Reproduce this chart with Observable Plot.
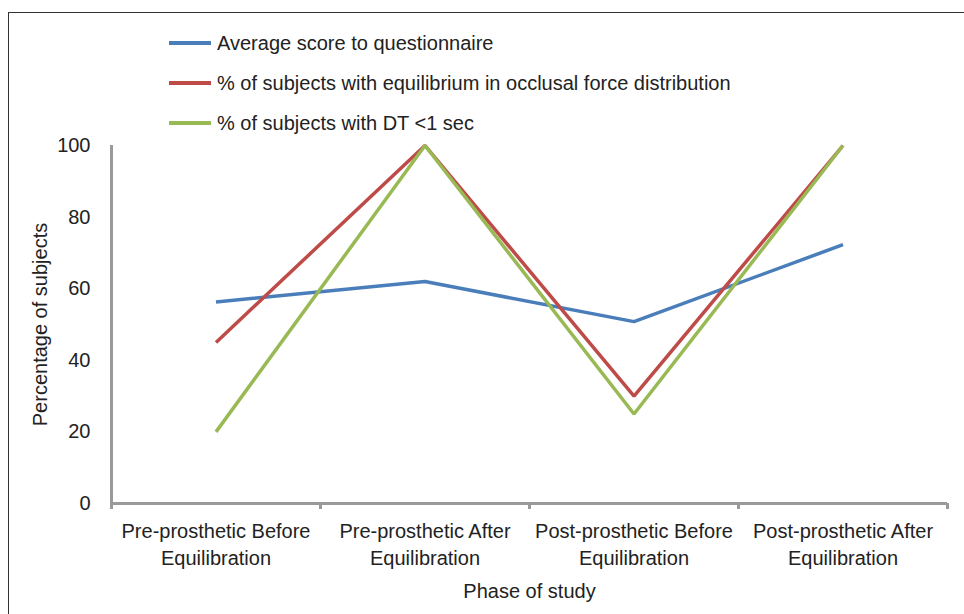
<!DOCTYPE html>
<html>
<head>
<meta charset="utf-8">
<script src="https://cdn.jsdelivr.net/npm/d3@7"></script>
<script src="https://cdn.jsdelivr.net/npm/@observablehq/plot@0.6"></script>
<style>
  html, body { margin: 0; padding: 0; background: #fff; }
  #wrap { position: relative; width: 964px; height: 614px; overflow: hidden; font-family: "Liberation Sans", Arial, sans-serif; }
  #frame { position: absolute; left: 8px; top: 12px; width: 1000px; height: 700px; border: 1.5px solid #333; box-sizing: border-box; }
  #chart { position: absolute; left: 0; top: 0; }
  .leg { position: absolute; left: 169px; height: 24px; display: flex; align-items: center; font-size: 20px; color: #222; white-space: nowrap; }
  .leg .sw { width: 42px; height: 4px; margin-right: 6px; }
</style>
</head>
<body>
<div id="wrap">
  <div id="frame"></div>
  <div id="chart"></div>
  <div id="legend"></div>
</div>
<script>
const categories = [
  "Pre-prosthetic Before Equilibration",
  "Pre-prosthetic After Equilibration",
  "Post-prosthetic Before Equilibration",
  "Post-prosthetic After Equilibration"
];
const seriesNames = [
  "Average score to questionnaire",
  "% of subjects with equilibrium in occlusal force distribution",
  "% of subjects with DT <1 sec"
];
const avgScore = [56.3, 62, 50.8, 72.3];
const equilibrium = [45, 100, 30, 100];
const dtUnder1 = [20, 100, 25, 100];
const yTicks = [0, 20, 40, 60, 80, 100];
const colors = ["#4A7EBB", "#BE4B48", "#98B954"];

const seriesValues = [avgScore, equilibrium, dtUnder1];
const rows = [];
seriesNames.forEach((name, s) => {
  seriesValues[s].forEach((v, i) => rows.push({series: name, idx: i, value: v}));
});
const boundaries = d3.range(categories.length + 1).map(i => i - 0.5);

const W = 964, H = 614, mT = 145, mB = 111;
const frameH = H - mT - mB;
const gray = "#9a9a9a";
const plot = Plot.plot({
  width: W,
  height: H,
  marginLeft: 111,
  marginRight: 17,
  marginTop: mT,
  marginBottom: mB,
  style: {fontFamily: "Liberation Sans, Arial, sans-serif", fontSize: "20px", color: "#222", background: "transparent"},
  x: {domain: [-0.5, categories.length - 0.5]},
  y: {domain: [0, 100]},
  color: {domain: seriesNames, range: colors},
  marks: [
    Plot.axisY({ticks: yTicks, tickSize: 0, tickPadding: 21, fontSize: 20, label: null}),
    Plot.axisX({ticks: d3.range(categories.length), tickSize: 0, tickPadding: 15, fontSize: 20, lineHeight: 1.35,
      tickFormat: i => categories[i].replace(" Equilibration", "\nEquilibration"), label: null}),
    Plot.ruleX(boundaries, {stroke: gray, strokeWidth: 3, insetTop: frameH, insetBottom: -6}),
    Plot.ruleY([0], {stroke: gray, strokeWidth: 3}),
    Plot.ruleX([-0.5], {stroke: gray, strokeWidth: 3, insetBottom: -6}),
    Plot.line(rows, {x: "idx", y: "value", z: "series", stroke: "series", strokeWidth: 3.5, strokeLinecap: "butt", strokeLinejoin: "miter"}),
    Plot.text(["Percentage of subjects"], {frameAnchor: "left", textAnchor: "middle", lineAnchor: "middle", rotate: -90, dx: -71, fontSize: 20, fill: "#222"}),
    Plot.text(["Phase of study"], {frameAnchor: "bottom", lineAnchor: "middle", dy: 88, fontSize: 20, fill: "#222"})
  ]
});
document.getElementById("chart").appendChild(plot);

const legend = document.getElementById("legend");
const legendTops = [31, 71, 111];
seriesNames.forEach((name, i) => {
  const d = document.createElement("div");
  d.className = "leg";
  d.style.top = legendTops[i] + "px";
  const sw = document.createElement("span");
  sw.className = "sw";
  sw.style.background = colors[i];
  const t = document.createElement("span");
  t.textContent = name;
  d.appendChild(sw);
  d.appendChild(t);
  legend.appendChild(d);
});
</script>
</body>
</html>
